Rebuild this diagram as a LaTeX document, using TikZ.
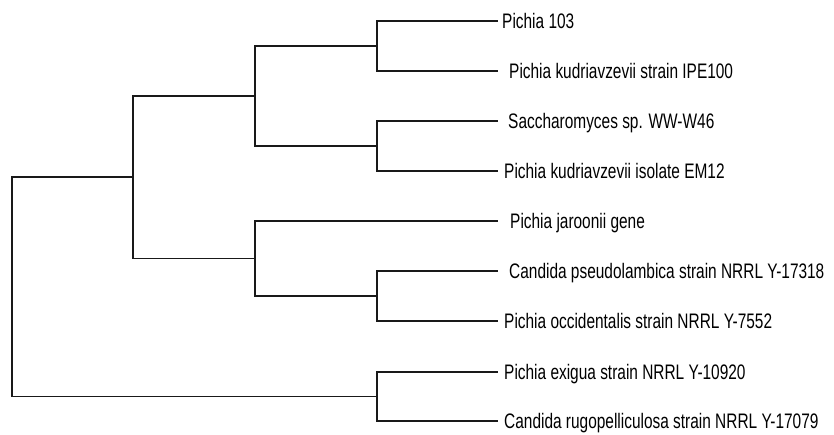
\documentclass[tikz,border=0pt]{standalone}
\usepackage{fontspec}
\usepackage{graphicx}
\setmainfont{Liberation Sans}
% condensed sans-serif taxon name
\newcommand{\taxname}[1]{\scalebox{0.735}[1]{#1}}
\begin{document}
\begin{tikzpicture}[x=1pt,y=-1pt,
  branch/.style={draw=black!90,line width=1.4pt},
  taxon/.style={anchor=base west,inner sep=0pt,font=\fontsize{21}{25}\selectfont}]
\useasboundingbox (0,0) rectangle (834,434);

% leaf tips
\coordinate (t1) at (498,21);
\coordinate (t2) at (498,71);
\coordinate (t3) at (498,121);
\coordinate (t4) at (498,171);
\coordinate (t5) at (498,221);
\coordinate (t6) at (498,271);
\coordinate (t7) at (498,321);
\coordinate (t8) at (498,372);
\coordinate (t9) at (498,421);

% internal nodes
\coordinate (nA) at (377,46);
\coordinate (nB) at (377,146);
\coordinate (nC) at (255,96);
\coordinate (nD) at (377,296);
\coordinate (nE) at (255,258.5);
\coordinate (nF) at (133,177);
\coordinate (nG) at (377,396.5);
\coordinate (root) at (12,287);

% taxon labels
\node[taxon] (s1) at (502,28.5) {\taxname{Pichia 103}};
\node[taxon] (s2) at (509,78.5) {\taxname{Pichia kudriavzevii strain IPE100}};
\node[taxon] (s3) at (508,128.5) {\taxname{Saccharomyces sp. WW-W46}};
\node[taxon] (s4) at (504,178.5) {\taxname{Pichia kudriavzevii isolate EM12}};
\node[taxon] (s5) at (510,228.5) {\taxname{Pichia jaroonii gene}};
\node[taxon] (s6) at (509,278.5) {\taxname{Candida pseudolambica strain NRRL Y-17318}};
\node[taxon] (s7) at (504,328.5) {\taxname{Pichia occidentalis strain NRRL Y-7552}};
\node[taxon] (s8) at (504,379.5) {\taxname{Pichia exigua strain NRRL Y-10920}};
\node[taxon] (s9) at (504,428.5) {\taxname{Candida rugopelliculosa strain NRRL Y-17079}};

% branches
\draw[branch] (nA) |- (t1);
\draw[branch] (nA) |- (t2);
\draw[branch] (nB) |- (t3);
\draw[branch] (nB) |- (t4);
\draw[branch] (nC) |- (nA);
\draw[branch] (nC) |- (nB);
\draw[branch] (nD) |- (t6);
\draw[branch] (nD) |- (t7);
\draw[branch] (nE) |- (t5);
\draw[branch] (nE) |- (nD);
\draw[branch] (nF) |- (nC);
\draw[branch] (nF) |- (nE);
\draw[branch] (nG) |- (t8);
\draw[branch] (nG) |- (t9);
\draw[branch] (root) |- (nF);
\draw[branch] (root) |- (nG);
\end{tikzpicture}
\end{document}
